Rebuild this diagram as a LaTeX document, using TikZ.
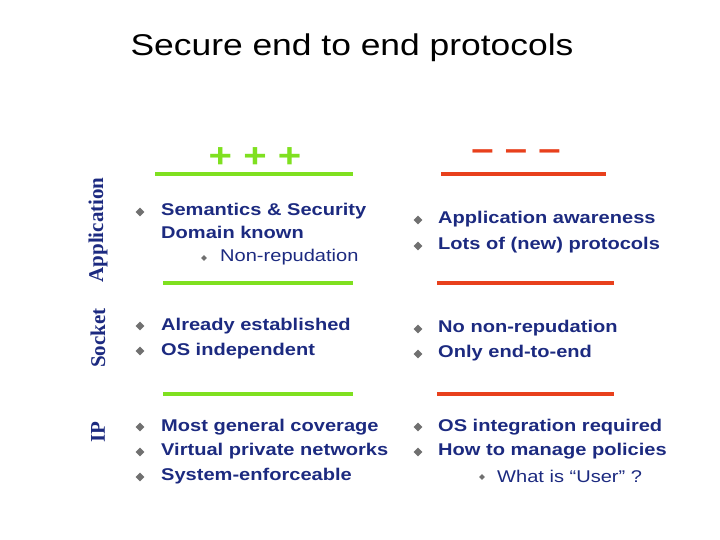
\documentclass[tikz,border=0pt]{standalone}
\usepackage{fontspec}
\setmainfont[FakeStretch=1.18]{Liberation Sans}
\newfontfamily\serifb{Liberation Serif}
\definecolor{navy}{HTML}{1C2A80}
\definecolor{lgreen}{HTML}{7FE020}
\definecolor{lred}{HTML}{E8401C}
\definecolor{bgray}{HTML}{707070}
\usetikzlibrary{shapes.geometric}
\begin{document}
\begin{tikzpicture}[x=1pt,y=-1pt,
  itm/.style={anchor=west,inner sep=0pt,text=navy,font=\fontsize{17}{17}\selectfont\bfseries},
  sub/.style={anchor=west,inner sep=0pt,text=navy,font=\fontsize{17}{17}\selectfont},
  blt/.style={diamond,fill=bgray,inner sep=0pt,minimum size=9pt},
  sblt/.style={diamond,fill=bgray,inner sep=0pt,minimum size=6pt},
  side/.style={rotate=90,text=navy,inner sep=0pt,font=\serifb\fontsize{21}{21}\selectfont\bfseries},
  gl/.style={draw=lgreen,line width=4.5pt},
  rl/.style={draw=lred,line width=4.5pt}]
\useasboundingbox (0,0) rectangle (720,540);
\node[font=\fontsize{30}{30}\selectfont] (title) at (352,48) {Secure end to end protocols};
\node[text=lgreen,font=\fontsize{34}{34}\selectfont\bfseries] (plus) at (255,158) {+ + +};
\node[text=lred,font=\fontsize{34}{34}\selectfont\bfseries] (minus) at (516,155) {– – –};
\coordinate (g1a) at (155,174); \coordinate (g1b) at (353,174);
\coordinate (r1a) at (441,174); \coordinate (r1b) at (606,174);
\coordinate (g2a) at (163,283); \coordinate (g2b) at (353,283);
\coordinate (r2a) at (437,283); \coordinate (r2b) at (614,283);
\coordinate (g3a) at (163,394); \coordinate (g3b) at (353,394);
\coordinate (r3a) at (437,394); \coordinate (r3b) at (614,394);
\draw[gl] (g1a)--(g1b); \draw[gl] (g2a)--(g2b); \draw[gl] (g3a)--(g3b);
\draw[rl] (r1a)--(r1b); \draw[rl] (r2a)--(r2b); \draw[rl] (r3a)--(r3b);
\node[side] (app) at (98,230) {Application};
\node[side] (sock) at (98,338) {Socket};
\node[side] (ip) at (98,432) {IP};
% left
\node[blt] (b1) at (140,212) {}; \node[itm] (t1) at (161,211) {Semantics \& Security};
\node[itm] (t1b) at (161,232) {Domain known};
\node[sblt] (s1) at (204,258) {}; \node[sub] (t1c) at (220,257) {Non-repudation};
\node[blt] (b2) at (140,326) {}; \node[itm] (t2) at (161,326) {Already established};
\node[blt] (b3) at (140,351) {}; \node[itm] (t3) at (161,351) {OS independent};
\node[blt] (b4) at (140,427) {}; \node[itm] (t4) at (161,427) {Most general coverage};
\node[blt] (b5) at (140,452) {}; \node[itm] (t5) at (161,451) {Virtual private networks};
\node[blt] (b6) at (140,477) {}; \node[itm] (t6) at (161,476) {System-enforceable};
% right
\node[blt] (c1) at (418,220) {}; \node[itm] (u1) at (438,219) {Application awareness};
\node[blt] (c2) at (418,246) {}; \node[itm] (u2) at (438,245) {Lots of (new) protocols};
\node[blt] (c3) at (418,329) {}; \node[itm] (u3) at (438,328) {No non-repudation};
\node[blt] (c4) at (418,354) {}; \node[itm] (u4) at (438,353) {Only end-to-end};
\node[blt] (c5) at (418,427) {}; \node[itm] (u5) at (438,427) {OS integration required};
\node[blt] (c6) at (418,452) {}; \node[itm] (u6) at (438,451) {How to manage policies};
\node[sblt] (s2) at (482,477) {}; \node[sub] (u7) at (497,476) {What is “User” ?};
\end{tikzpicture}
\end{document}
